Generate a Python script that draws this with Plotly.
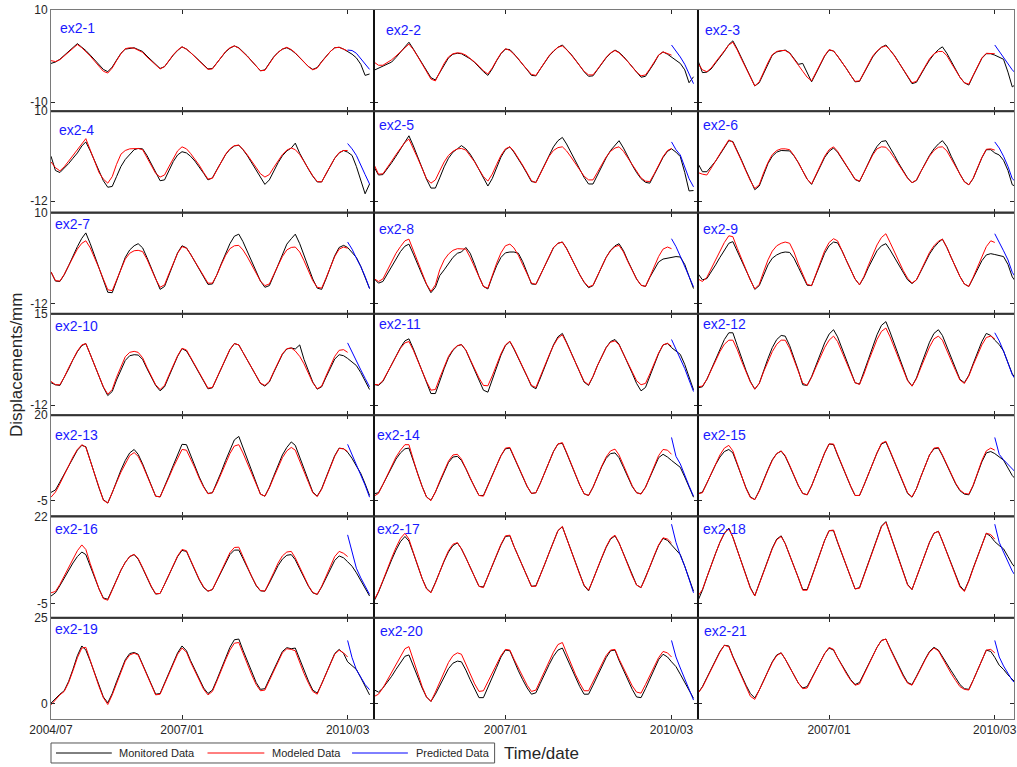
import pandas as pd
import plotly.graph_objects as go

# ---------------- data (monthly readings, 2004/07 .. 2010/08) ----------------
months = pd.date_range("2004-07-01", periods=74, freq="MS")
PRED_START = 68  # predicted data start at 2010/03

panel_names = [f"ex2-{i}" for i in range(1, 22)]
row_ranges = [[-12, 10], [-14.8, 10], [-14.4, 10], [-15, 15], [-9.5, 20], [-9.3, 22], [-4.4, 25]]
row_ticks = [[-10, 10], [-12, 10], [-12, 10], [-12, 15], [-5, 20], [-5, 22], [0, 25]]
x_tick_dates = ["2004-07-01", "2007-01-01", "2010-03-01"]
x_tick_text = ["2004/07", "2007/01", "2010/03"]
legend_labels = ["Monitored Data", "Modeled Data", "Predicted Data"]

mon_01 = [-1.6,-1.3,-0.7,0.1,0.9,1.8,2.7,1.9,1.2,0.2,-0.8,-1.9,-2.9,-3.4,-2.4,-0.9,0.6,1.5,1.7,1.8,1.4,1.0,0.0,-0.9,-1.9,-2.7,-2.3,-1.0,0.2,1.2,2.0,1.5,0.8,-0.1,-1.0,-2.0,-2.8,-2.7,-1.4,-0.2,0.9,1.7,2.2,1.8,1.0,0.0,-1.1,-2.2,-3.2,-3.0,-1.5,-0.2,0.8,1.5,1.8,1.3,0.6,-0.4,-1.4,-2.3,-2.9,-2.5,-1.2,0.0,1.0,1.8,1.9,1.5,1.0,0.4,-0.4,-1.8,-4.2,-3.9]
mod_01 = [-1.0,-1.2,-0.8,0.0,0.9,1.7,2.5,1.8,1.0,0.0,-1.1,-2.3,-3.3,-3.7,-2.6,-1.0,0.5,1.6,1.8,1.7,1.3,0.8,-0.2,-1.1,-2.0,-2.8,-2.3,-1.0,0.3,1.3,2.0,1.5,0.8,-0.2,-1.1,-2.0,-2.9,-2.8,-1.5,-0.2,1.0,1.8,2.2,1.7,0.9,-0.1,-1.1,-2.2,-3.2,-3.1,-1.7,-0.3,0.8,1.5,1.9,1.4,0.7,-0.3,-1.3,-2.3,-3.0,-2.6,-1.3,-0.1,1.0,1.8,1.9,1.5,1.1]
pre_01 = [1.3,1.2,0.6,-0.6,-1.6,-2.9]

mon_02 = [-3.1,-2.6,-2.2,-1.7,-1.3,-0.3,0.8,2.0,3.0,1.5,0.0,-1.6,-3.2,-4.7,-5.2,-3.6,-1.8,-0.4,0.4,0.6,0.5,0.0,-0.6,-1.4,-2.4,-3.4,-4.2,-2.8,-1.0,0.5,1.5,1.4,0.5,-0.6,-1.8,-3.0,-4.2,-4.3,-2.8,-1.3,0.0,1.0,1.9,2.4,1.5,0.4,-0.8,-2.1,-3.4,-4.4,-4.3,-3.0,-1.6,-0.4,0.6,1.3,0.8,-0.1,-1.2,-2.4,-3.6,-4.6,-4.4,-3.0,-1.5,0.2,0.9,0.4,-0.2,-0.8,-1.6,-3.0,-5.8,-4.5]
mod_02 = [-1.3,-2.0,-2.0,-1.5,-0.8,0.0,1.0,1.8,2.6,1.4,-0.1,-1.8,-3.5,-5.0,-5.4,-3.5,-1.6,-0.2,0.5,0.7,0.6,0.2,-0.5,-1.3,-2.2,-3.2,-3.9,-2.6,-0.9,0.6,1.6,1.2,0.4,-0.6,-1.8,-3.0,-4.0,-4.2,-2.7,-1.2,0.1,1.1,1.9,2.2,1.4,0.3,-0.9,-2.2,-3.3,-4.1,-4.1,-2.9,-1.5,-0.3,0.7,1.2,0.7,-0.2,-1.2,-2.4,-3.5,-4.3,-4.1,-2.8,-1.3,0.2,0.9,0.5,0.2]
pre_02 = [2.4,1.2,-0.2,-1.8,-4.0,-6.0]

mon_03 = [-1.0,-3.6,-3.5,-2.8,-1.5,-0.3,1.0,2.5,3.3,1.5,-0.5,-2.5,-4.5,-6.5,-5.8,-3.8,-1.6,0.2,0.9,1.1,1.3,0.7,-0.5,-1.8,-1.6,-3.8,-5.6,-3.8,-1.8,0.0,1.3,1.1,0.0,-1.3,-2.7,-4.2,-5.6,-5.5,-3.6,-1.8,-0.2,1.0,1.9,2.4,1.4,0.1,-1.4,-3.0,-4.6,-6.0,-5.7,-4.0,-2.4,-0.9,0.4,1.4,2.0,0.6,-1.2,-3.0,-4.6,-5.8,-6.3,-4.3,-2.3,-0.5,0.5,0.5,0.2,-0.2,-0.7,-3.5,-6.7,-6.0]
mod_03 = [-1.6,-3.0,-3.4,-2.6,-1.3,-0.1,1.1,2.4,3.0,1.3,-0.7,-2.7,-4.7,-6.5,-5.6,-3.5,-1.4,0.3,1.0,1.2,1.2,0.6,-0.6,-2.0,-3.3,-4.6,-5.4,-3.6,-1.6,0.1,1.4,1.1,0.0,-1.3,-2.7,-4.2,-5.5,-5.4,-3.5,-1.6,0.0,1.1,1.9,2.2,1.3,0.0,-1.5,-3.0,-4.5,-5.8,-5.5,-3.8,-2.1,-0.6,0.5,1.0,1.0,0.1,-1.5,-3.1,-4.6,-5.8,-6.1,-4.2,-2.2,-0.4,0.6,0.6,0.5]
pre_03 = [2.4,1.0,-0.2,-1.5,-3.0,-4.0]

mon_04 = [-1.0,-4.5,-5.0,-4.0,-2.8,-1.5,-0.2,1.5,2.5,0.3,-2.0,-4.8,-7.0,-8.6,-8.4,-6.0,-3.5,-1.8,-0.5,0.6,0.9,0.8,-0.8,-3.0,-5.2,-7.0,-6.8,-4.5,-2.3,-0.7,0.1,-0.2,-1.0,-2.2,-3.6,-5.2,-6.8,-6.3,-4.3,-2.3,-0.6,0.7,1.5,1.7,0.6,-0.9,-2.6,-4.4,-6.4,-7.9,-6.8,-4.6,-2.6,-0.9,0.3,1.0,2.2,-0.3,-2.3,-4.2,-5.9,-7.3,-7.3,-5.3,-3.3,-1.5,-0.2,0.4,0.0,-0.8,-3.5,-6.9,-10.2,-7.8]
mod_04 = [-2.4,-3.8,-4.6,-3.6,-2.2,-0.8,0.6,2.2,3.3,0.5,-2.2,-5.0,-6.6,-7.6,-6.0,-3.0,-0.5,0.4,0.8,0.9,0.9,0.6,-1.2,-3.2,-5.2,-6.1,-5.6,-3.6,-1.6,0.3,1.3,0.8,-0.3,-1.7,-3.2,-5.0,-6.6,-6.4,-4.3,-2.3,-0.5,0.8,1.6,1.7,0.7,-0.7,-2.2,-3.8,-5.3,-6.1,-5.5,-3.8,-2.1,-0.6,0.5,1.0,0.6,-0.6,-2.3,-4.1,-5.8,-7.2,-7.3,-5.3,-3.3,-1.5,-0.1,0.4,0.4]
pre_04 = [2.1,0.8,-0.8,-3.0,-5.5,-7.8]

mon_05 = [-3.6,-5.6,-5.5,-4.2,-2.6,-1.0,0.8,2.5,4.0,1.5,-1.3,-4.0,-6.6,-8.8,-8.8,-6.3,-3.6,-1.5,0.0,0.8,1.6,0.8,-0.5,-2.3,-4.3,-6.5,-8.3,-6.5,-3.7,-1.2,0.6,1.3,0.0,-1.6,-3.4,-5.3,-7.2,-7.4,-5.2,-2.8,-0.6,1.3,2.8,3.6,2.0,-0.2,-2.2,-4.2,-6.2,-7.8,-7.8,-5.6,-3.4,-1.4,0.4,1.8,2.8,1.0,-1.2,-3.2,-5.0,-6.5,-7.4,-7.6,-5.5,-3.3,-1.3,0.2,0.8,0.0,-1.1,-5.0,-9.5,-9.4]
mod_05 = [-3.0,-5.4,-5.3,-3.9,-2.2,-0.6,1.0,2.4,3.2,1.0,-1.5,-4.0,-6.5,-7.6,-6.8,-4.6,-2.4,-0.8,0.2,0.8,0.9,0.5,-0.8,-2.4,-4.2,-6.0,-7.1,-5.4,-3.0,-0.8,0.8,1.3,0.2,-1.4,-3.2,-5.1,-7.0,-7.5,-5.3,-3.0,-1.0,0.4,1.1,1.3,0.3,-1.2,-2.8,-4.4,-5.9,-6.8,-6.8,-5.0,-3.0,-1.2,0.2,1.0,1.3,0.2,-1.4,-3.1,-4.8,-6.3,-7.1,-7.2,-5.3,-3.1,-1.1,0.4,0.9]
pre_05 = [2.5,0.6,-0.7,-3.5,-6.5,-8.5]

mon_06 = [-2.8,-4.8,-4.8,-3.6,-2.2,-0.6,1.2,2.8,2.6,0.4,-2.0,-4.5,-7.0,-9.2,-8.3,-5.4,-2.8,-1.0,0.0,0.4,0.4,0.3,-0.9,-2.6,-4.6,-6.6,-7.9,-5.8,-3.4,-1.3,0.2,1.0,0.0,-1.6,-3.3,-5.0,-6.7,-7.2,-5.0,-2.6,-0.4,1.4,2.6,2.8,1.2,-0.8,-2.8,-4.6,-6.3,-7.5,-6.9,-4.8,-2.7,-0.8,0.8,2.0,2.8,1.4,-1.0,-3.3,-5.4,-7.2,-8.0,-6.5,-3.9,-1.4,0.6,0.6,-0.2,-0.7,-2.0,-4.5,-8.0,-8.5]
mod_06 = [-5.0,-5.4,-5.6,-4.0,-2.2,-0.4,1.4,3.0,2.4,0.2,-2.2,-4.7,-7.0,-8.9,-8.0,-5.1,-2.5,-0.6,0.4,0.8,0.8,0.6,-0.8,-2.6,-4.6,-6.6,-7.8,-5.6,-3.2,-1.0,0.6,1.3,0.2,-1.5,-3.3,-5.0,-6.6,-7.1,-4.9,-2.7,-0.7,0.8,1.3,1.2,0.1,-1.5,-3.2,-4.9,-6.4,-7.5,-6.8,-4.8,-2.8,-1.0,0.4,1.2,1.3,0.3,-1.6,-3.6,-5.6,-7.3,-8.0,-6.4,-3.8,-1.3,0.7,0.8,0.5]
pre_06 = [2.5,1.0,-1.0,-3.5,-6.5,-7.5]

mon_07 = [-4.3,-6.5,-6.6,-5.0,-2.8,-0.5,1.8,3.8,5.1,2.5,-0.3,-3.2,-6.2,-9.2,-9.3,-6.5,-3.4,-0.8,1.0,2.0,2.5,1.5,-0.8,-3.5,-6.1,-8.5,-7.8,-5.0,-2.2,0.3,2.0,1.5,0.0,-1.8,-3.6,-5.5,-7.3,-7.2,-5.0,-2.4,0.2,2.5,4.3,4.8,3.0,0.6,-1.8,-4.2,-6.5,-8.0,-7.6,-5.2,-2.6,0.0,2.4,3.7,4.8,2.5,-0.3,-3.2,-6.0,-8.2,-8.5,-6.0,-3.0,-0.4,1.6,2.1,1.6,0.5,-0.8,-3.0,-5.6,-8.3]
mod_07 = [-4.3,-6.4,-6.5,-4.9,-2.8,-0.7,1.2,2.6,3.2,1.5,-0.8,-3.4,-6.0,-8.6,-8.8,-6.2,-3.4,-1.2,0.2,0.8,0.9,0.6,-1.2,-3.7,-6.0,-8.0,-7.4,-4.8,-2.1,0.2,1.8,1.4,0.0,-1.8,-3.6,-5.4,-7.0,-7.0,-5.0,-2.6,-0.3,1.3,2.0,2.1,1.0,-0.7,-2.6,-4.6,-6.5,-7.6,-7.2,-5.0,-2.7,-0.6,1.0,1.6,1.7,0.5,-1.6,-4.0,-6.4,-8.0,-8.2,-5.8,-3.0,-0.6,1.2,1.7,1.4]
pre_07 = [2.9,1.2,-1.0,-3.0,-5.4,-8.3]

mon_08 = [-5.9,-7.0,-6.6,-4.8,-2.8,-1.0,0.6,1.9,2.4,0.0,-2.6,-5.0,-7.3,-9.3,-8.0,-5.2,-3.8,-2.2,-0.8,0.2,0.5,1.6,0.2,-2.5,-5.4,-7.8,-8.4,-5.5,-2.8,-0.8,0.3,0.5,0.5,0.2,-1.8,-4.5,-7.2,-7.3,-5.0,-2.6,-0.4,1.5,2.6,2.9,1.4,-0.8,-3.0,-5.0,-6.8,-8.1,-7.6,-5.3,-3.0,-0.8,0.9,2.0,2.5,0.8,-1.6,-3.9,-6.0,-7.5,-7.8,-5.6,-3.6,-1.9,-1.2,-1.0,-0.8,-0.6,-0.7,-2.5,-5.4,-8.3]
mod_08 = [-5.9,-6.6,-6.0,-4.0,-1.8,0.2,1.8,3.2,3.6,0.8,-2.2,-4.8,-7.2,-9.0,-7.4,-3.8,-1.4,0.0,0.9,1.3,1.3,1.2,-0.8,-3.2,-5.7,-7.8,-8.2,-5.2,-2.2,0.3,2.0,2.4,1.5,-0.3,-2.6,-4.8,-7.0,-7.3,-5.0,-2.6,-0.2,1.6,2.6,2.9,1.3,-0.8,-3.0,-5.0,-6.7,-7.9,-7.5,-5.2,-2.9,-0.8,0.8,1.8,2.1,0.5,-1.8,-4.0,-6.0,-7.5,-7.8,-5.5,-3.0,-0.6,1.2,1.7,1.3]
pre_08 = [3.7,1.8,-0.5,-3.0,-5.6,-7.9]

mon_09 = [-4.7,-6.2,-5.9,-4.4,-2.6,-0.8,1.0,2.6,3.0,0.6,-1.8,-4.2,-6.5,-8.5,-7.6,-5.0,-2.6,-1.0,-0.2,0.3,0.5,0.4,-1.0,-3.2,-5.5,-7.5,-7.6,-5.0,-2.3,0.2,2.0,2.9,2.7,0.8,-1.5,-3.8,-6.0,-7.4,-5.6,-3.3,-1.0,0.8,2.0,2.5,1.0,-0.9,-2.8,-4.6,-6.2,-7.1,-6.2,-4.2,-2.0,0.0,1.6,2.8,3.6,1.6,-0.8,-3.2,-5.4,-7.2,-7.8,-5.8,-3.6,-1.6,-0.2,0.1,-0.1,-0.3,-0.6,-2.5,-5.5,-7.0]
mod_09 = [-6.0,-6.6,-5.6,-3.6,-1.4,0.8,2.8,4.4,4.2,1.4,-1.3,-3.9,-6.3,-8.4,-7.3,-4.3,-1.4,0.7,2.0,2.6,2.9,2.6,0.5,-2.4,-5.0,-7.3,-7.6,-4.8,-1.8,0.8,2.8,3.7,3.2,1.0,-1.5,-3.8,-6.0,-7.4,-5.4,-2.8,-0.2,2.2,4.0,4.9,2.8,0.4,-1.9,-4.0,-5.8,-7.0,-6.2,-4.0,-1.7,0.4,2.0,3.1,3.6,1.6,-0.8,-3.2,-5.4,-7.2,-7.8,-5.6,-3.0,-0.5,1.8,3.2,2.8]
pre_09 = [4.9,3.0,0.8,-1.4,-4.4,-6.0]

mon_10 = [-5.4,-6.0,-6.2,-4.0,-1.3,1.4,3.8,5.6,6.2,3.0,-0.2,-3.5,-6.7,-9.2,-8.0,-4.6,-1.4,1.2,2.6,2.9,2.8,1.5,-1.2,-3.8,-6.2,-7.8,-6.6,-3.6,-0.6,2.4,4.7,4.0,2.0,-0.3,-2.6,-5.0,-7.2,-6.9,-4.0,-1.0,2.0,4.4,6.2,5.8,3.6,1.2,-1.2,-3.6,-5.6,-6.4,-5.2,-2.4,0.5,3.0,4.6,4.9,4.6,5.8,1.5,-2.0,-5.2,-7.3,-6.6,-3.8,-1.0,1.6,2.9,2.6,1.8,0.8,-0.3,-2.4,-5.0,-7.4]
mod_10 = [-5.0,-6.0,-6.0,-3.8,-1.0,1.6,4.0,5.8,6.2,3.0,-0.3,-3.6,-6.6,-8.8,-7.4,-3.8,-0.4,2.3,3.6,3.9,3.6,2.0,-0.8,-3.6,-6.0,-7.4,-6.2,-3.2,-0.3,2.6,4.8,4.3,2.2,-0.1,-2.4,-4.8,-7.0,-6.8,-3.9,-0.9,2.1,4.5,6.2,5.8,3.6,1.2,-1.2,-3.6,-5.5,-6.2,-5.0,-2.2,0.7,3.2,4.7,4.9,4.0,2.4,0.2,-2.6,-5.4,-7.2,-6.4,-3.4,-0.4,2.4,4.2,4.4,3.6]
pre_10 = [6.4,3.6,1.0,-1.6,-4.1,-6.6]

mon_11 = [-5.9,-6.2,-5.0,-2.6,0.0,2.6,5.0,7.0,7.6,4.6,1.2,-2.2,-5.5,-8.6,-8.6,-4.8,-1.2,2.0,4.2,5.5,5.9,4.2,1.4,-1.6,-4.6,-7.6,-8.2,-4.4,-0.8,2.8,5.6,6.8,4.6,2.0,-0.8,-3.6,-6.4,-7.2,-4.0,-0.6,2.8,5.8,8.2,9.2,6.6,3.6,0.6,-2.4,-5.2,-6.2,-3.6,-0.4,2.6,5.0,6.8,7.4,6.0,3.2,0.4,-2.6,-5.6,-7.8,-6.8,-3.6,-0.2,3.2,5.8,6.2,5.0,4.0,3.0,0.0,-3.8,-7.5]
mod_11 = [-5.9,-6.0,-4.8,-2.4,0.2,2.6,4.8,6.4,6.8,4.2,1.0,-2.1,-5.0,-7.6,-7.4,-4.0,-0.6,2.4,4.4,5.6,5.9,4.3,1.5,-1.4,-4.0,-6.2,-6.3,-3.4,0.0,3.2,5.8,6.9,4.8,2.0,-0.8,-3.6,-6.2,-6.8,-3.8,-0.4,2.8,5.6,7.8,8.8,6.4,3.4,0.4,-2.4,-5.0,-6.0,-3.5,-0.4,2.6,5.0,6.6,7.0,5.8,3.0,0.3,-2.4,-4.8,-6.0,-5.6,-2.8,0.3,3.4,5.8,6.3,5.4]
pre_11 = [7.4,4.6,2.1,-1.2,-4.6,-8.0]

mon_12 = [-6.9,-6.6,-4.4,-1.4,1.8,4.8,7.4,9.4,9.4,5.6,1.8,-1.8,-5.0,-7.3,-5.6,-1.8,1.8,5.0,7.4,8.6,8.4,5.6,2.0,-1.8,-6.0,-6.2,-3.6,-0.2,3.2,6.4,9.0,10.3,8.2,4.8,1.4,-2.0,-5.4,-5.8,-2.4,1.4,5.2,8.8,11.6,12.7,9.6,6.0,2.4,-1.2,-4.6,-6.4,-4.0,-0.4,3.2,6.6,9.2,10.3,8.6,5.2,1.8,-1.4,-4.4,-5.4,-3.2,0.2,3.6,6.8,9.2,8.6,7.2,5.9,4.0,0.5,-2.8,-4.5]
mod_12 = [-6.6,-6.4,-4.4,-1.6,1.2,3.8,6.0,7.2,7.2,4.4,1.0,-2.2,-5.2,-7.3,-5.6,-2.2,1.0,3.8,6.0,7.2,7.2,4.8,1.4,-2.0,-5.5,-6.2,-3.8,-0.8,2.2,5.0,7.2,8.4,6.8,3.8,0.8,-2.4,-5.4,-5.9,-2.8,0.8,4.2,7.4,9.8,10.8,8.2,5.0,1.8,-1.6,-4.8,-6.4,-4.2,-1.0,2.2,5.2,7.6,8.4,7.2,4.4,1.2,-1.8,-4.6,-5.6,-3.4,-0.2,3.0,5.8,8.0,8.4,7.6]
pre_12 = [9.4,7.0,4.0,0.6,-3.0,-5.0]

mon_13 = [-2.5,-1.8,0.5,2.8,5.4,7.8,9.8,11.2,10.8,6.8,2.6,-1.2,-4.6,-5.6,-2.6,0.8,4.0,6.8,9.0,10.0,8.6,5.8,2.6,-0.6,-3.6,-3.8,-1.0,2.2,5.4,8.6,11.5,11.4,8.4,5.2,2.0,-0.8,-2.8,-2.6,0.2,3.4,6.8,10.0,12.8,13.8,10.6,7.0,3.4,0.0,-3.0,-3.6,-1.0,2.2,5.4,8.4,10.6,12.2,11.2,7.6,4.2,0.8,-2.4,-3.6,-1.4,1.8,5.0,8.2,10.4,10.2,9.2,7.4,5.2,3.0,0.0,-3.4]
mod_13 = [-3.9,-2.4,0.0,2.6,5.2,7.8,10.0,11.4,10.6,6.6,2.4,-1.4,-4.8,-5.6,-2.8,0.4,3.4,6.0,8.2,9.1,8.0,5.4,2.4,-0.8,-3.6,-3.8,-1.2,1.8,4.8,7.6,10.0,9.8,7.4,4.6,1.6,-1.0,-2.9,-2.6,0.0,3.0,6.0,8.8,11.0,11.4,9.0,6.0,2.8,-0.4,-3.0,-3.6,-1.2,1.8,4.8,7.6,9.6,10.6,9.8,6.8,3.6,0.4,-2.6,-3.7,-1.6,1.6,4.8,8.0,10.3,10.2,9.4]
pre_13 = [11.5,8.4,5.6,2.8,-0.4,-3.9]

mon_14 = [-2.9,-2.6,-0.2,2.4,5.0,7.2,9.0,10.2,10.4,6.6,2.6,-0.8,-3.8,-4.8,-2.4,0.6,3.6,6.2,7.8,8.0,6.8,4.4,1.6,-1.2,-3.4,-3.4,-0.6,2.4,5.4,8.2,10.2,10.4,7.8,4.8,1.8,-0.8,-2.8,-2.6,0.2,3.4,6.6,9.4,11.6,11.8,9.0,5.8,2.6,-0.4,-2.9,-3.4,-1.0,2.0,5.0,7.4,8.8,9.0,7.6,4.8,1.8,-0.8,-2.6,-2.9,-1.0,2.0,5.0,7.6,8.6,7.8,6.8,5.8,4.8,2.0,-1.0,-3.9]
mod_14 = [-3.6,-2.8,-0.2,2.6,5.4,7.8,9.8,11.4,11.4,7.0,2.8,-0.8,-3.8,-4.9,-2.4,0.8,3.8,6.6,8.4,8.6,7.2,4.6,1.8,-1.0,-3.4,-3.6,-0.6,2.4,5.4,8.2,10.4,10.6,8.0,5.0,2.0,-0.7,-2.8,-2.6,0.2,3.4,6.6,9.4,11.6,12.0,9.2,6.0,2.8,-0.3,-2.9,-3.4,-1.0,2.2,5.2,7.8,9.6,10.1,8.4,5.4,2.2,-0.6,-2.6,-3.0,-1.0,2.2,5.4,8.2,10.0,9.8,8.6]
pre_14 = [13.5,8.0,5.8,2.4,-0.6,-3.6]

mon_15 = [-2.9,-2.4,0.2,3.0,5.6,7.8,9.4,10.0,9.0,5.6,2.0,-1.2,-3.8,-4.6,-2.0,1.2,4.2,7.0,8.8,9.5,8.0,5.2,2.2,-0.6,-2.8,-3.2,-0.6,2.6,5.8,9.0,11.6,11.4,8.4,5.2,2.0,-0.8,-3.4,-3.4,-0.4,2.8,6.0,9.0,11.6,12.2,9.4,6.2,3.0,0.0,-2.8,-3.9,-1.4,2.0,5.4,8.4,10.2,10.4,8.2,5.4,2.6,0.0,-2.0,-3.0,-3.2,-0.6,3.0,6.4,9.0,9.4,8.8,7.8,6.9,4.6,2.4,1.0]
mod_15 = [-2.9,-2.6,0.2,3.0,5.8,8.4,10.4,11.2,9.6,5.8,2.0,-1.4,-4.0,-4.6,-2.2,1.0,4.0,6.8,8.8,9.6,8.2,5.4,2.4,-0.5,-2.8,-3.2,-0.6,2.6,5.8,9.0,11.6,11.6,8.6,5.4,2.2,-0.7,-3.4,-3.4,-0.4,2.8,6.0,9.0,11.8,12.4,9.6,6.4,3.2,0.2,-2.6,-3.8,-1.4,2.0,5.4,8.4,10.4,10.6,8.4,5.6,2.8,0.2,-1.8,-2.8,-3.0,-0.4,3.2,6.8,9.6,10.4,9.8]
pre_15 = [13.5,8.6,7.0,5.6,4.3,3.0]

mon_16 = [-2.6,-1.6,0.6,3.0,5.4,7.6,9.6,11.0,10.2,6.6,3.0,-0.4,-3.2,-3.6,-0.6,2.6,5.4,7.8,9.6,10.2,8.8,6.0,3.0,0.2,-2.0,-1.8,1.0,4.0,6.8,9.6,11.5,11.2,8.4,5.4,2.4,0.0,-1.1,-0.6,2.2,5.0,7.8,10.2,11.6,11.6,9.0,6.0,3.2,0.6,-1.0,-1.1,1.4,4.2,6.8,8.8,10.0,10.2,8.6,5.8,3.0,0.4,-1.6,-2.1,0.2,3.0,5.8,8.4,9.8,9.2,8.0,6.6,4.6,2.2,-0.2,-2.6]
mod_16 = [-1.6,-1.2,1.0,3.6,6.4,9.0,11.4,13.2,11.8,7.4,3.2,-0.4,-3.4,-3.9,-0.8,2.4,5.4,7.8,9.6,10.3,9.0,6.2,3.2,0.4,-1.9,-1.8,1.0,4.0,7.0,9.8,11.8,11.4,8.6,5.6,2.6,0.2,-1.1,-0.6,2.4,5.4,8.2,10.8,12.4,12.5,9.6,6.4,3.4,0.8,-0.9,-1.1,1.6,4.6,7.6,9.8,11.0,11.2,9.2,6.2,3.2,0.6,-1.5,-2.1,0.4,3.6,6.8,9.6,11.2,10.6,9.6]
pre_16 = [16.3,11.0,6.0,3.0,0.4,-2.1]

mon_17 = [-4.2,-1.4,2.0,5.4,8.6,11.6,14.2,15.8,14.4,10.6,6.6,2.8,-0.2,-1.5,1.6,5.0,8.2,11.0,13.0,13.8,12.0,9.2,6.2,3.2,0.4,0.2,3.4,6.8,10.0,13.2,15.8,16.0,12.8,9.6,6.4,3.2,0.4,0.6,3.8,7.2,10.8,14.4,17.6,18.8,15.2,11.4,7.6,4.0,0.6,-1.0,2.2,5.8,9.2,12.4,15.0,16.0,13.8,10.4,7.0,3.6,0.8,0.0,3.0,6.4,9.8,13.0,15.2,14.6,13.2,11.6,10.2,6.6,2.8,-1.1]
mod_17 = [-4.0,-1.2,2.2,5.8,9.2,12.4,15.2,16.8,15.0,10.8,6.6,2.8,-0.4,-1.6,1.4,5.0,8.4,11.4,13.4,13.9,12.0,9.2,6.2,3.2,0.4,0.0,3.2,6.8,10.2,13.4,16.0,16.2,12.8,9.6,6.4,3.2,0.4,0.4,3.8,7.2,10.8,14.4,17.6,18.9,15.2,11.4,7.6,4.0,0.8,-0.8,2.4,6.0,9.4,12.6,15.2,16.2,13.8,10.4,7.0,3.6,0.8,0.0,3.0,6.6,10.0,13.2,15.4,15.0,13.8]
pre_17 = [19.6,14.0,10.0,6.6,2.6,-1.6]

mon_18 = [-4.0,-0.8,3.2,7.0,10.6,14.0,16.8,18.4,15.6,11.6,7.6,3.6,0.0,-2.5,1.2,5.0,8.8,12.2,15.0,16.0,13.6,10.2,6.6,3.0,-0.6,-0.6,3.2,7.0,10.8,14.6,17.6,17.6,14.0,10.4,6.8,3.2,-0.4,0.0,3.8,7.8,11.8,15.6,19.0,20.4,16.6,12.6,8.6,4.6,1.0,-0.6,3.2,7.0,10.6,14.0,16.8,17.4,14.4,10.8,7.2,3.6,0.6,-1.0,2.2,6.0,9.8,13.6,16.8,15.8,14.2,13.0,12.0,9.6,7.3,5.6]
mod_18 = [-2.6,-0.6,3.2,7.0,10.6,14.0,16.8,18.2,15.6,11.6,7.6,3.4,-0.2,-2.6,1.0,4.8,8.6,12.0,14.8,15.8,13.6,10.2,6.6,3.0,-0.8,-0.8,3.0,7.0,10.8,14.6,17.6,17.8,14.2,10.6,7.0,3.4,-0.4,-0.2,3.6,7.6,11.6,15.4,18.8,20.2,16.4,12.4,8.4,4.4,0.8,-0.6,3.0,6.8,10.6,14.0,16.8,17.4,14.4,10.8,7.2,3.4,0.2,-1.2,2.0,5.8,9.6,13.4,16.8,16.4,15.0]
pre_18 = [19.6,14.0,11.0,8.0,5.1,3.0]

mon_19 = [0.2,1.6,2.8,3.8,6.5,10.0,14.0,16.8,15.6,12.4,8.8,5.0,2.0,0.3,3.0,6.4,9.8,12.8,14.6,14.9,14.4,11.4,8.2,5.2,2.8,3.0,6.0,9.0,12.0,14.8,16.8,15.4,12.6,9.8,7.2,4.6,3.0,4.0,7.0,10.2,13.4,16.4,18.6,18.8,15.6,12.4,9.2,6.2,4.2,4.4,7.2,10.0,12.8,15.2,16.3,16.0,16.2,12.8,9.6,6.6,4.0,3.1,5.8,8.8,11.8,14.6,15.8,14.6,12.2,11.0,10.0,7.6,5.0,2.6]
mod_19 = [-0.3,1.2,2.6,3.6,6.2,9.6,13.4,16.2,16.4,12.6,8.8,5.0,1.8,-0.2,2.6,6.0,9.4,12.4,14.2,14.7,14.2,11.2,8.0,5.0,2.6,2.8,5.8,8.8,11.8,14.4,16.2,15.0,12.2,9.4,6.8,4.2,2.6,3.6,6.6,9.8,12.8,15.6,17.6,17.8,14.6,11.4,8.4,5.6,3.8,4.0,6.8,9.6,12.4,14.8,16.0,15.8,15.4,12.0,8.8,6.0,3.6,2.8,5.6,8.6,11.6,14.4,15.6,14.8,13.6]
pre_19 = [18.4,13.4,9.9,7.6,5.6,4.1]

mon_20 = [4.1,3.4,4.6,6.2,8.0,10.0,12.0,13.8,14.2,11.0,7.6,4.6,2.0,0.7,2.8,5.4,8.0,10.2,11.8,12.4,12.2,9.8,7.0,4.2,1.8,1.8,4.6,7.6,10.6,13.6,15.6,15.4,12.4,9.6,7.0,4.6,2.8,3.2,6.0,8.8,11.4,13.8,15.6,16.2,13.4,10.4,7.6,5.0,2.8,2.8,5.4,8.2,10.8,13.4,15.4,15.6,12.6,9.6,6.8,4.2,2.0,1.8,4.4,7.2,10.0,12.8,14.4,13.6,12.2,10.8,8.6,6.2,4.0,1.6]
mod_20 = [2.1,2.8,4.6,6.8,9.0,11.4,13.8,16.0,16.6,12.8,8.8,5.0,2.0,0.7,3.4,6.4,9.4,12.0,14.0,14.8,14.4,11.4,8.6,5.8,3.6,3.8,6.4,9.0,11.6,14.0,15.8,15.6,13.0,10.4,7.8,5.4,3.6,4.0,6.8,9.6,12.4,15.0,17.2,17.8,14.8,11.6,8.6,6.0,3.8,3.8,6.4,9.0,11.6,14.0,15.6,15.8,13.0,10.2,7.6,5.2,3.4,3.1,5.6,8.2,10.8,13.4,15.2,14.8,13.6]
pre_20 = [18.4,13.6,10.4,7.4,4.4,1.1]

mon_21 = [3.1,5.0,7.6,10.2,12.8,15.2,17.0,16.8,13.8,10.8,8.0,5.4,3.0,1.7,4.0,6.8,9.6,12.2,14.2,14.8,13.0,10.6,8.2,6.0,4.6,5.0,7.4,9.8,12.2,14.6,16.2,15.6,13.4,11.2,9.0,7.0,5.6,6.2,8.8,11.4,14.0,16.4,18.4,18.8,16.2,13.4,10.8,8.4,6.2,5.6,8.0,10.6,13.0,15.2,16.4,15.6,13.6,11.6,9.6,7.6,5.6,4.4,4.2,6.8,9.8,12.8,15.6,15.2,13.5,11.2,10.0,8.4,7.0,5.8]
mod_21 = [3.1,4.8,7.4,10.0,12.6,15.0,17.0,16.6,13.6,10.6,7.6,4.8,2.2,1.3,3.8,6.6,9.4,12.0,14.0,14.8,13.0,10.6,8.2,6.0,4.4,4.6,7.2,9.8,12.2,14.6,16.4,15.8,13.4,11.0,8.8,6.8,5.4,5.8,8.6,11.4,14.0,16.4,18.4,18.8,16.0,13.2,10.4,8.0,6.0,5.4,7.8,10.4,12.8,15.0,16.2,15.4,13.2,11.0,8.8,6.8,5.0,4.2,4.0,6.8,9.8,12.8,15.6,15.8,14.8]
pre_21 = [18.4,13.6,11.0,8.8,6.8,5.6]

monitored = [mon_01, mon_02, mon_03, mon_04, mon_05, mon_06, mon_07, mon_08, mon_09, mon_10, mon_11,
             mon_12, mon_13, mon_14, mon_15, mon_16, mon_17, mon_18, mon_19, mon_20, mon_21]
modeled = [mod_01, mod_02, mod_03, mod_04, mod_05, mod_06, mod_07, mod_08, mod_09, mod_10, mod_11,
           mod_12, mod_13, mod_14, mod_15, mod_16, mod_17, mod_18, mod_19, mod_20, mod_21]
predicted = [pre_01, pre_02, pre_03, pre_04, pre_05, pre_06, pre_07, pre_08, pre_09, pre_10, pre_11,
             pre_12, pre_13, pre_14, pre_15, pre_16, pre_17, pre_18, pre_19, pre_20, pre_21]

# ---------------- layout geometry (pixels) ----------------
W, H = 1017, 767
ML, MT, MB = 51, 10, 48
PW, PH = W - ML, H - MT - MB
col_px = [(51, 375), (375, 700), (700, 1017)]
col_x_end = ["2010-09-01", "2010-09-01", "2010-07-13"]
ROW_H = PH / 7
# label (left x, centre y) in px for each panel
label_px = [(58, 28), (385, 30), (705, 30), (57, 130), (378, 125), (703, 125),
            (53, 224), (378, 229), (703, 229), (53, 326), (378, 324), (703, 324),
            (53, 435), (376, 435), (703, 435), (53, 529), (376, 529), (703, 529),
            (53, 629), (379, 631), (704, 631)]

FONT = "Liberation Sans, Arial, Helvetica, sans-serif"
AXCOL = "#262626"
COL_MON, COL_MOD, COL_PRE = "#000000", "#ff0000", "#0000ff"


def xp(px):
    return round((px - ML) / PW, 6)


def yp(py):
    return round((H - MB - py) / PH, 6)


def clamp(v):
    return min(1.0, max(0.0, v))


fig = go.Figure()
layout = dict(
    width=W, height=H, margin=dict(l=ML, r=0, t=MT, b=MB, pad=0),
    paper_bgcolor="white", plot_bgcolor="white", showlegend=False,
    font=dict(family=FONT, size=12, color=AXCOL), hovermode=False,
)

annotations = []
shapes = []
for i in range(21):
    r, c = divmod(i, 3)
    n = i + 1
    sfx = "" if n == 1 else str(n)
    xa, ya = "x" + sfx, "y" + sfx
    mon, mod, pre = monitored[i], modeled[i], predicted[i]
    fig.add_trace(go.Scatter(x=months[:len(mon)], y=mon, mode="lines",
                             line=dict(color=COL_MON, width=1), xaxis=xa, yaxis=ya,
                             name=legend_labels[0]))
    fig.add_trace(go.Scatter(x=months[:len(mod)], y=mod, mode="lines",
                             line=dict(color=COL_MOD, width=1), xaxis=xa, yaxis=ya,
                             name=legend_labels[1]))
    fig.add_trace(go.Scatter(x=months[PRED_START:PRED_START + len(pre)], y=pre, mode="lines",
                             line=dict(color=COL_PRE, width=1), xaxis=xa, yaxis=ya,
                             name=legend_labels[2]))
    x0, x1 = col_px[c]
    top = MT + r * ROW_H
    bot = top + ROW_H
    layout["xaxis" + sfx] = dict(
        domain=[clamp(xp(x0)), clamp(xp(x1))], anchor=ya, range=["2004-07-01", col_x_end[c]],
        tickvals=x_tick_dates,
        ticktext=x_tick_text if c == 0 else [""] + x_tick_text[1:],
        showticklabels=(r == 6), ticks="inside", ticklen=4, tickcolor=AXCOL,
        ticklabeloverflow="allow",
        showline=True, linecolor="#7a7a7a", linewidth=1, mirror="ticks",
        showgrid=False, zeroline=False,
        tickfont=dict(family=FONT, size=12, color=AXCOL),
    )
    layout["yaxis" + sfx] = dict(
        domain=[clamp(yp(bot)), clamp(yp(top))], anchor=xa, range=row_ranges[r],
        tickvals=row_ticks[r], ticktext=[str(v) for v in row_ticks[r]],
        showticklabels=(c == 0),
        ticks="inside", ticklen=4, tickcolor=AXCOL,
        showline=True, linecolor="#7a7a7a", linewidth=1, mirror="ticks",
        showgrid=False, zeroline=False,
        tickfont=dict(family=FONT, size=12, color=AXCOL),
    )
    lx, ly = label_px[i]
    annotations.append(dict(text=panel_names[i], xref="paper", yref="paper",
                            x=xp(lx), y=yp(ly), xanchor="left", yanchor="middle",
                            showarrow=False, font=dict(family=FONT, size=14, color="#1a1aff")))

# separators between panels
for x in (375, 700):
    shapes.append(dict(type="line", xref="paper", yref="paper", x0=xp(x), x1=xp(x),
                       y0=0, y1=1, line=dict(color="#111111", width=2)))
for r in range(1, 7):
    y = MT + r * ROW_H
    shapes.append(dict(type="line", xref="paper", yref="paper", x0=0, x1=1,
                       y0=yp(y), y1=yp(y), line=dict(color="#333333", width=2)))

# legend box (drawn like the original)
shapes.append(dict(type="rect", xref="paper", yref="paper", x0=xp(51), x1=xp(496),
                   y0=yp(763), y1=yp(743), line=dict(color="#555555", width=1)))
leg_lines = [(56, 112, COL_MON), (208, 265, COL_MOD), (353, 409, COL_PRE)]
leg_text_x = [117, 271, 415]
for (a, b, col), tx, lab in zip(leg_lines, leg_text_x, legend_labels):
    shapes.append(dict(type="line", xref="paper", yref="paper", x0=xp(a), x1=xp(b),
                       y0=yp(753), y1=yp(753), line=dict(color=col, width=1)))
    annotations.append(dict(text=lab, xref="paper", yref="paper", x=xp(tx), y=yp(753),
                            xanchor="left", yanchor="middle", showarrow=False,
                            font=dict(family=FONT, size=11, color=AXCOL)))

annotations.append(dict(text="Time/date", xref="paper", yref="paper", x=xp(543), y=yp(754),
                        xanchor="center", yanchor="middle", showarrow=False,
                        font=dict(family=FONT, size=17, color=AXCOL)))
annotations.append(dict(text="Displacements/mm", xref="paper", yref="paper", x=xp(17), y=yp(365),
                        xanchor="center", yanchor="middle", showarrow=False, textangle=-90,
                        font=dict(family=FONT, size=17, color=AXCOL)))

layout["annotations"] = annotations
layout["shapes"] = shapes
fig.update_layout(**layout)
fig.write_html("out.html", config={"displayModeBar": False},
               post_script="document.body.style.margin='0px';document.body.style.overflow='hidden';")
